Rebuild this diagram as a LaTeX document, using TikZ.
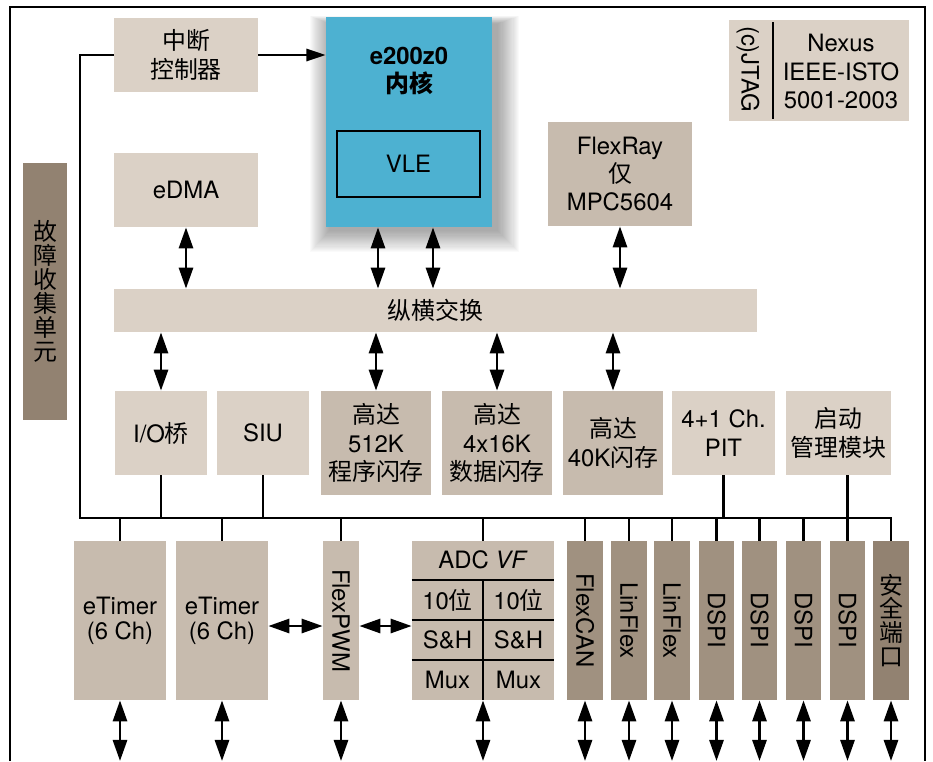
\documentclass[tikz,border=0pt]{standalone}
\usepackage{fontspec}
\setmainfont{TeX Gyre Heros}
\newfontfamily\cjk{Noto Sans CJK SC}
\usetikzlibrary{arrows.meta}
\definecolor{litec}{HTML}{DBD1C6}
\definecolor{midc}{HTML}{C7BBAE}
\definecolor{darkc}{HTML}{A09180}
\definecolor{darkerc}{HTML}{928271}
\definecolor{corec}{HTML}{4DB1D1}
\newcommand\txtsize{\fontsize{13.6}{16.2}\selectfont}
\tikzset{
  sz/.style 2 args={minimum width=#1*0.02cm, minimum height=#2*0.02cm},
  blk/.style={inner sep=0pt, align=center, font=\txtsize},
  lite/.style={blk, fill=litec},
  mid/.style={blk, fill=midc},
  dark/.style={blk, fill=darkc},
  darker/.style={blk, fill=darkerc},
  core/.style={blk, fill=corec},
  cn/.style={font=\cjk\txtsize},
  vcn/.style={font=\cjk\fontsize{13.6}{13.6}\selectfont},
  bus/.style={line width=1.3pt},
  dbl/.style={{Triangle[length=12pt,width=8pt]}-{Triangle[length=12pt,width=8pt]}, line width=1.6pt},
}
\begin{document}
\begin{tikzpicture}[x=0.02cm, y=-0.02cm]
  \useasboundingbox (0,0) rectangle (933,761);
  % soft shadow behind the core
  \foreach \s in {1,...,20}
    \fill[black, opacity=0.018] (330-\s, 24-0.4*\s) rectangle (497+1.1*\s, 230+1.1*\s);

  % top part
  \node[lite, sz={144}{74}, cn] (intc) at (186,55) {中断\\控制器};
  \node[core, sz={166}{210}] (core) at (409,122) {};
  \node[blk, font=\bfseries\txtsize] (coretxt) at (409,71) {e200z0\\{\cjk 内核}};
  \node[blk, draw, line width=1.2pt, sz={143}{66}] (vle) at (408.5,164) {VLE};
  \node[lite, sz={144}{74}] (edma) at (186,190) {eDMA};
  \node[mid, sz={144}{104}] (fray) at (620,174) {FlexRay\\{\cjk 仅}\\MPC5604};
  \node[lite, sz={180}{101}] (jtag) at (819,70.5) {};
  \node[blk] (jtagtxt) at (748,69) {\rotatebox{-90}{(c)JTAG}};
  \draw[line width=1.4pt] (773,22) -- (773,119);
  \node[blk] (nexus) at (841,71.5) {Nexus\\IEEE-ISTO\\5001-2003};
  \node[darker, sz={44}{257}, vcn] (fault) at (45,291.5) {故\\障\\收\\集\\单\\元};
  \node[lite, sz={643}{43}, cn] (xbar) at (435.5,310.5) {纵横交换};

  % middle row
  \node[lite, sz={92}{84}] (iob) at (161,433) {I/O{\cjk 桥}};
  \node[lite, sz={92}{84}] (siu) at (263,433) {SIU};
  \node[mid, sz={110}{104}] (fl512) at (376,443) {{\cjk 高达}\\512K\\{\cjk 程序闪存}};
  \node[mid, sz={110}{104}] (fl64) at (497,443) {{\cjk 高达}\\4x16K\\{\cjk 数据闪存}};
  \node[mid, sz={100}{104}] (fl40) at (613,443) {{\cjk 高达}\\40K{\cjk 闪存}};
  \node[lite, sz={103}{84}] (pit) at (723.5,433) {4+1 Ch.\\PIT};
  \node[lite, sz={105}{84}, cn] (boot) at (838.5,433) {启动\\管理模块};

  % bottom row
  \node[mid, sz={92}{159}, font=\fontsize{13.6}{14.3}\selectfont] (et1) at (120,620.5) {eTimer\\(6 Ch)};
  \node[mid, sz={92}{159}, font=\fontsize{13.6}{14.3}\selectfont] (et2) at (222,620.5) {eTimer\\(6 Ch)};
  \node[mid, sz={36}{159}] (pwm) at (341,620.5) {\rotatebox{-90}{FlexPWM}};
  \node[mid, sz={142}{159}] (adc) at (483,620.5) {};
  \node[dark, sz={36}{159}] (can) at (585,620.5) {\rotatebox{-90}{FlexCAN}};
  \node[dark, sz={36}{159}] (lin1) at (629,620.5) {\rotatebox{-90}{LinFlex}};
  \node[dark, sz={36}{159}] (lin2) at (672,620.5) {\rotatebox{-90}{LinFlex}};
  \foreach \x/\n in {716.5/dspi1, 759.5/dspi2, 803.5/dspi3, 847.5/dspi4}
    \node[dark, sz={35}{159}] (\n) at (\x,620.5) {\rotatebox{-90}{DSPI}};
  \node[darker, sz={36}{159}, vcn] (sec) at (891,620.5) {安\\全\\端\\口};

  % ADC cells
  \node[blk] (adctitle) at (483,560) {ADC \textit{VF}};
  \foreach \y in {580,620,660}
    \draw[line width=1.2pt] (adc.west |- 0,\y) -- (adc.east |- 0,\y);
  \draw[line width=1.2pt] (483,580) -- (adc.south);
  \foreach \y/\t in {600/{10{\cjk 位}}, 640/{S\&H}, 680/{Mux}} {
    \node[blk] (adcl\y) at (447.5,\y) {\t};
    \node[blk] (adcr\y) at (518.5,\y) {\t};
  }

  % interrupt line and peripheral bus
  \draw[bus, -{Triangle[length=11pt,width=7pt]}] (intc.east) -- (intc.east -| core.west);
  \coordinate (busL) at (80,518);
  \draw[bus] (intc.west) -| (busL) -| (sec.north);
  \foreach \n in {et1,et2,pwm,adc,can,lin1,lin2,dspi1,dspi2,dspi3,dspi4}
    \draw[bus] (\n.north) -- (\n.north |- busL);
  \foreach \n in {iob,siu,pit}
    \draw[bus] (\n.south) -- (\n.south |- busL);
  \draw[bus] (boot.south -| dspi4.north) -- (busL -| dspi4.north);

  % crossbar arrows
  \draw[dbl] (edma.south) -- (edma.south |- xbar.north);
  \draw[dbl] (core.south -| 378,0) -- (xbar.north -| 378,0);
  \draw[dbl] (core.south -| 433,0) -- (xbar.north -| 433,0);
  \draw[dbl] (fray.south) -- (fray.south |- xbar.north);
  \foreach \n in {iob,fl512,fl64,fl40}
    \draw[dbl] (xbar.south -| \n.north) -- (\n.north);

  % side and pin arrows
  \draw[dbl] (et2.east |- 0,626) -- (pwm.west |- 0,626);
  \draw[dbl] (pwm.east |- 0,626) -- (adc.west |- 0,626);
  \foreach \n in {et1,et2,pwm,adc,can,lin1,lin2,dspi1,dspi2,dspi3,dspi4,sec}
    \draw[dbl] (\n.south) -- (\n.south |- 0,761);

  % outer frame
  \draw[line width=1.5pt] (10,761) -- (10,7) -- (925,7) -- (925,761);
\end{tikzpicture}
\end{document}
